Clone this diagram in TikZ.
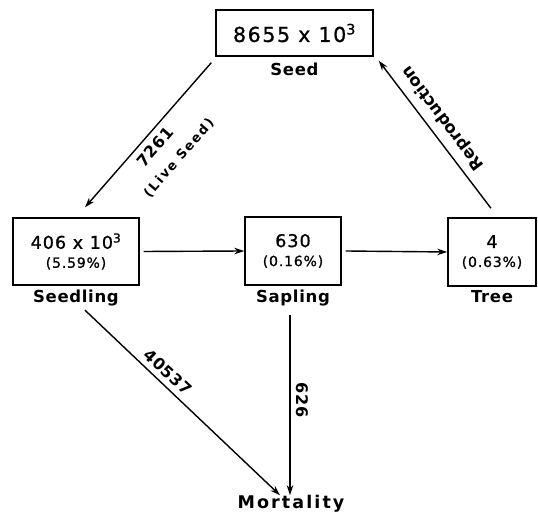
\documentclass[tikz,border=0pt]{standalone}
\usepackage{fontspec}
\setmainfont{DejaVu Sans}
\usetikzlibrary{positioning,arrows.meta}
\tikzset{
	>={Stealth[length=10pt,width=6.5pt]}
}
\newcommand{\sharefont}{\fontsize{14}{17}\selectfont}

\begin{document}
\begin{tikzpicture}[
x = 1pt, y = 1pt,
node distance = 3pt,
stage/.style = {
	draw,
	line width = 1.4pt,
	align = center,
	inner sep = 0pt,
	font = \fontsize{17.5}{21}\selectfont\addfontfeatures{LetterSpace=6,FakeBold=1}
},
stage name/.style = {
	inner sep = 1pt,
	font = \fontsize{16.5}{20}\selectfont\bfseries\addfontfeatures{LetterSpace=4}
},
flow/.style = {
	->,
	line width = 1.4pt
},
flow label/.style = {
	inner sep = 1pt,
	font = \fontsize{16}{19}\selectfont\bfseries\addfontfeatures{LetterSpace=4}
},
flow note/.style = {
	inner sep = 1pt,
	font = \fontsize{13}{15}\selectfont\bfseries\addfontfeatures{LetterSpace=14}
}
]

\useasboundingbox (0,0) rectangle (538,516);

\node [stage, minimum width=157pt, minimum height=46pt, font=\fontsize{20.5}{24}\selectfont\addfontfeatures{LetterSpace=8,FakeBold=1}] (seed) at (294.5,483) {8655 x 10\textsuperscript{3}};
\node [stage name, below = 5pt of seed] (seedname) {Seed};

\node [stage, minimum width=126pt, minimum height=67pt] (seedling) at (76,264.5) {406 x 10\textsuperscript{3}\\[-2pt] \sharefont (5.59\%)};
\node [stage, minimum width=96pt, minimum height=68pt] (sapling) at (293,265) {630\\[-2pt] \sharefont (0.16\%)};
\node [stage, minimum width=88pt, minimum height=68pt] (tree) at (492,264) {4\\[-2pt] \sharefont (0.63\%)};

\node [stage name, below = of seedling] (seedlingname) {Seedling};
\node [stage name, below = of sapling] (saplingname) {Sapling};
\node [stage name, below = of tree] (treename) {Tree};

\node [stage name, font=\fontsize{17.5}{20}\selectfont\bfseries\addfontfeatures{LetterSpace=12}] (mort) at (291,12) {Mortality};

\node [flow label, rotate=49] (seedflow) at (155,369) {7261};
\node [flow note, rotate=49] (liveseed) at (179,358) {(Live Seed)};
\node [flow label, font=\fontsize{16.5}{19}\selectfont\bfseries, rotate=127] (repro) at (443,398) {Reproduction};
\node [flow label, rotate=-43] (seedlingloss) at (168,144) {40537};
\node [flow label, rotate=-90] (saplingloss) at (302,116) {626};

\draw[flow] ([shift={(-4,-6)}]seed.south west) -- ([shift={(9,10)}]seedling.north);
\draw[flow] ([shift={(-1,9)}]tree.north) -- ([shift={(5,-4)}]seed.south east);
\draw[flow] ([xshift=4pt]seedling.east) -- (sapling.west);
\draw[flow] ([xshift=4pt]sapling.east) -- (tree.west);
\draw[flow] ([shift={(9,-3)}]seedlingname.south) -- ([shift={(-11,-1)}]mort.north);
\draw[flow] ([shift={(-3,-8)}]saplingname.south) -- ([shift={(-3,-1)}]saplingname.south |- mort.north);

\end{tikzpicture}
\end{document}
